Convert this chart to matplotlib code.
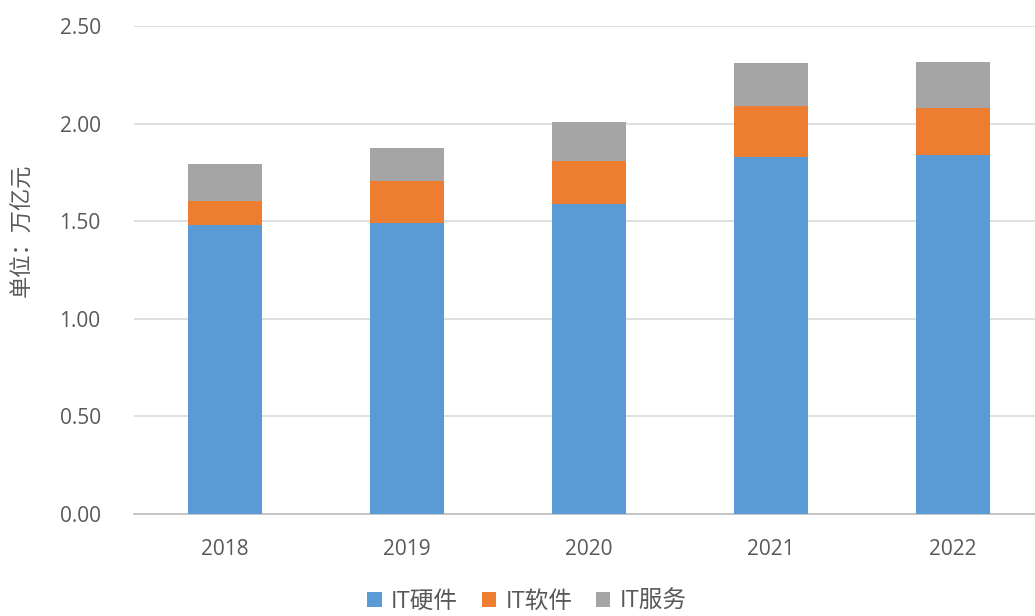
import matplotlib
matplotlib.use("Agg")
import matplotlib.pyplot as plt
import numpy as np

plt.rcParams['font.family'] = ['Open Sans', 'Noto Sans CJK SC', 'DejaVu Sans']

years = ["2018", "2019", "2020", "2021", "2022"]
hardware = [1.48, 1.49, 1.59, 1.83, 1.84]
software = [0.125, 0.215, 0.22, 0.26, 0.24]
services = [0.19, 0.17, 0.20, 0.22, 0.235]
series_names = ["IT硬件", "IT软件", "IT服务"]
colors = ["#5B9BD5", "#ED7D31", "#A5A5A5"]
yticks = [0.0, 0.5, 1.0, 1.5, 2.0, 2.5]

fig = plt.figure(figsize=(10.35, 6.16), dpi=100)
ax = fig.add_axes([134/1035, 102/616, 910/1035, 488/616])

x = np.arange(len(years))
w = 0.405
b1 = np.array(hardware)
b2 = b1 + np.array(software)
h1 = ax.bar(x, hardware, w, color=colors[0], label=series_names[0], zorder=3)
h2 = ax.bar(x, software, w, bottom=b1, color=colors[1], label=series_names[1], zorder=3)
h3 = ax.bar(x, services, w, bottom=b2, color=colors[2], label=series_names[2], zorder=3)

ax.set_xlim(-0.5, len(years) - 0.5)
ax.set_ylim(0, 2.5)
ax.set_yticks(yticks)
ax.set_yticklabels([f"{v:.2f}" for v in yticks])
ax.set_xticks(x)
ax.set_xticklabels(years)
ax.grid(axis='y', color='#D9D9D9', linewidth=1.2, zorder=0)
for s in ['top', 'right', 'left']:
    ax.spines[s].set_visible(False)
ax.spines['bottom'].set_color('#BFBFBF')
ax.spines['bottom'].set_linewidth(1.2)
ax.tick_params(axis='both', length=0, labelsize=15, colors='#595959')
ax.tick_params(axis='x', pad=18)
ax.tick_params(axis='y', pad=24)

fig.text(23/1035, (616-230)/616, "单位：万亿元", rotation=90, fontsize=16,
         color='#595959', ha='center', va='center')

fig.legend(handles=[h1, h2, h3], labels=series_names, loc='lower center',
           bbox_to_anchor=(527/1035, 0.0), ncol=3, frameon=False,
           fontsize=17, labelcolor='#595959', handlelength=0.6, handleheight=0.6,
           handletextpad=0.4, columnspacing=1.0, borderaxespad=0.0, borderpad=0.1)

fig.savefig("out.png", dpi=100)
